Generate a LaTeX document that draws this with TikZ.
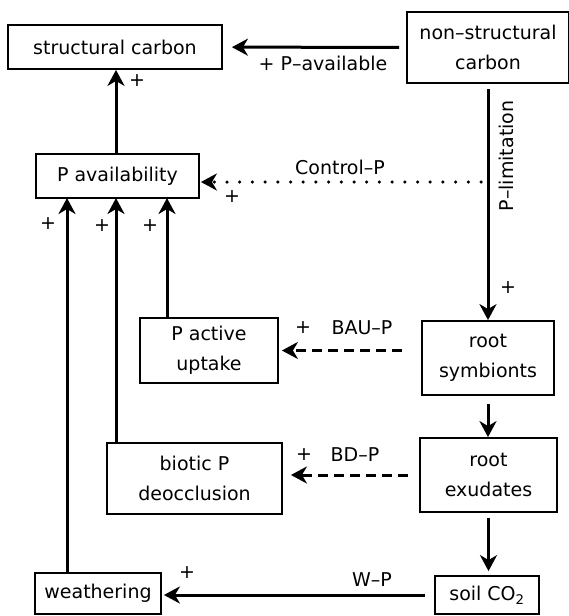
\documentclass[tikz,border=0pt]{standalone}
\usepackage{fontspec}
\setmainfont{DejaVu Sans}
\usetikzlibrary{arrows.meta}

\begin{document}
\begin{tikzpicture}[x=1pt,y=-1pt,
  box/.style={draw,line width=1.8pt,align=center,inner sep=0pt,font=\fontsize{19}{30}\selectfont},
  lab/.style={inner sep=0pt,font=\fontsize{19}{22}\selectfont},
  link/.style={line width=3pt,-{Stealth[length=16pt,width=17pt,inset=5pt]}},
  dashlink/.style={link,dash pattern=on 10pt off 6pt},
  dotlink/.style={link,line width=3.5pt,line cap=round,dash pattern=on 0pt off 12.7pt}]
\useasboundingbox (0,0) rectangle (569,616);
\node[box,minimum width=214,minimum height=44] (sc) at (115,47) {structural carbon};
\node[box,minimum width=162,minimum height=71] (nsc) at (488,47.5) {non--structural\\carbon};
\node[box,minimum width=163,minimum height=44] (pav) at (117.5,176) {P availability};
\node[box,minimum width=138,minimum height=65] (pau) at (209,350.5) {P active\\uptake};
\node[box,minimum width=132,minimum height=74] (rs) at (488,358) {root\\symbionts};
\node[box,minimum width=175,minimum height=71] (bpd) at (194.5,478.5) {biotic P\\deocclusion};
\node[box,minimum width=137,minimum height=74] (rex) at (488.5,475) {root\\exudates};
\node[box,minimum width=126,minimum height=41] (wth) at (98,593.5) {weathering};
\node[box,minimum width=104,minimum height=38] (soil) at (487,595) {soil CO\textsubscript{2}};
\coordinate (in1) at (67,198);
\coordinate (in2) at (116,198);
\coordinate (in3) at (167,198);
\coordinate (cp) at (488,182);
\draw[link,shorten <=7pt,shorten >=9pt] (nsc) -- (sc);
\draw[link] (pav.north -| in2) -- (in2 |- sc.south);
\draw[link,shorten <=5pt] (nsc.south) -- (rs.north);
\draw[dotlink,shorten <=7pt,shorten >=1pt] (cp) -- (cp -| pav.east);
\draw[link] (pau.north -| in3) -- (in3);
\draw[link] (bpd.north -| in2) -- (in2);
\draw[link] (wth.north -| in1) -- (in1);
\draw[link,shorten <=8pt] (rs.south) -- (rs.south |- rex.north);
\draw[link,shorten <=5pt,shorten >=4pt] (rex.south) -- (rex.south |- soil.north);
\draw[dashlink,shorten <=19pt,shorten >=3pt] (rs.west |- pau.east) -- (pau.east);
\draw[dashlink,shorten <=11pt,shorten >=8pt] (rex.west) -- (rex.west -| bpd.east);
\draw[link,shorten <=9pt,shorten >=2pt] (soil.west) -- (soil.west -| wth.east);
\node[lab] (lpa) at (323,63) {+ P--available};
\node[lab] (lp1) at (137,81) {+};
\node[lab,rotate=90] (lpl) at (506,156) {P--limitation};
\node[lab] (lp2) at (508,288) {+};
\node[lab] (lcp) at (340,167) {Control--P};
\node[lab] (lp3) at (232,197) {+};
\node[lab] (lp4) at (48,224) {+};
\node[lab] (lp5) at (102,226) {+};
\node[lab] (lp6) at (150,226) {+};
\node[lab] (lp7) at (303,328) {+};
\node[lab] (lbau) at (362,328) {BAU--P};
\node[lab] (lp8) at (304,455) {+};
\node[lab] (lbd) at (355,455) {BD--P};
\node[lab] (lwp) at (372,580) {W--P};
\node[lab] (lp9) at (187,573) {+};
\end{tikzpicture}
\end{document}
